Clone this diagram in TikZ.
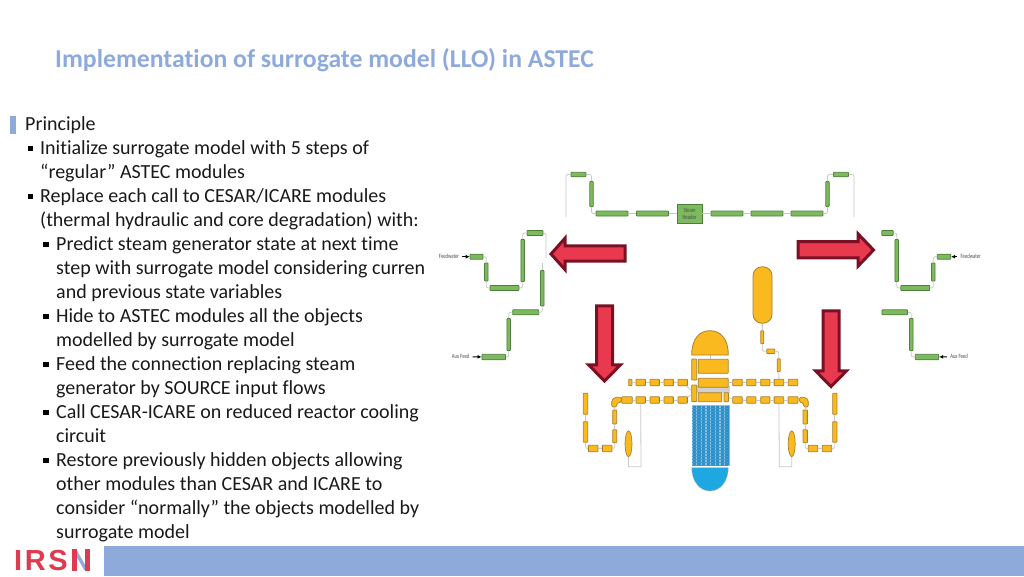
\documentclass[tikz,border=0pt]{standalone}
\usepackage{fontspec}
\setmainfont[Ligatures=NoCommon]{Carlito}
\newfontfamily\logofont[LetterSpace=9]{Liberation Sans}
\usetikzlibrary{shapes.geometric, arrows.meta}

\definecolor{slideblue}{HTML}{8EAADB}
\definecolor{logored}{HTML}{DE3A50}
\definecolor{arrowred}{HTML}{E8394E}
\definecolor{arrowdark}{HTML}{7A1024}
\definecolor{pipegreen}{HTML}{7DB95E}
\definecolor{pipegreendark}{HTML}{4D7F3B}
\definecolor{pipeyellow}{HTML}{F9B91F}
\definecolor{pipeyellowdark}{HTML}{A9802A}
\definecolor{coreblue}{HTML}{2B8FC9}
\definecolor{headblue}{HTML}{1EA7E0}

\tikzset{
    bodytext/.style={anchor=north west, align=left, inner sep=0pt, font=\fontsize{20}{24}\selectfont, text=black!90},
    bulletbox/.style={fill=black, inner sep=0pt, minimum size=5.5pt},
    gpipe/.style 2 args={draw=pipegreendark, fill=pipegreen, line width=0.8pt, rounded corners=0.6pt, inner sep=0pt, minimum width=#1pt, minimum height=#2pt},
    ypipe/.style 2 args={draw=pipeyellowdark, fill=pipeyellow, line width=0.8pt, rounded corners=0.6pt, inner sep=0pt, minimum width=#1pt, minimum height=#2pt},
    pipeline/.style={draw=black!22, line width=0.8pt, rounded corners=2pt},
    feedarrow/.style={-{Latex[length=4pt,width=4pt]}, line width=1pt, shorten <=3pt},
    feedtext/.style={inner sep=0pt, xscale=0.72, font=\fontsize{6.5}{7}\selectfont, text=black!70},
    bigarrow/.style={draw=arrowdark, fill=arrowred, line width=3pt, miter limit=10},
    blueshape/.style={draw=coreblue!55!white, fill=coreblue, line width=0.5pt, inner sep=0pt, minimum width=4.2pt, minimum height=60pt},
}

\begin{document}
\begin{tikzpicture}[x=1pt, y=-1pt]
    \useasboundingbox (0,0) rectangle (1024,576);

    % Titre
    \node[anchor=west, inner sep=0pt, font=\fontsize{25.7}{30}\bfseries\selectfont, text=slideblue] (title) at (55,60)
        {Implementation of surrogate model (LLO) in ASTEC};

    % Bande du bas et logo
    \fill[slideblue] (104,546) rectangle (1024,576);
    \node[anchor=base west, inner sep=0pt, font=\fontsize{29}{30}\bfseries\logofont, text=logored] (logoirs) at (14,570.5) {IRS};
    \node[anchor=base west, inner sep=0pt, font=\fontsize{29}{30}\bfseries\fontspec{Liberation Sans}, text=slideblue] (logon) at (70,570.5) {N};
    \fill[logored] (71.5,549) rectangle (76.5,570.5);
    \fill[logored] (84.5,549) rectangle (89.5,570.5);

    % Texte
    \fill[slideblue] (10,116) rectangle (16,134);
    \node[bodytext] (principle) at (25,116.5) {Principle};
    \node[bulletbox] (b1) at (30.5,148.5) {};
    \node[bodytext] (item1) at (40,140.5) {Initialize surrogate model with 5 steps of\\“regular” ASTEC modules};
    \node[bulletbox] (b2) at (30.5,196.5) {};
    \node[bodytext] (item2) at (40,188.5) {Replace each call to CESAR/ICARE modules\\(thermal hydraulic and core degradation) with:};
    \node[bulletbox] (b3) at (46,244.5) {};
    \node[bodytext] (item3) at (56,236.5) {Predict steam generator state at next time\\step with surrogate model considering curren\\and previous state variables};
    \node[bulletbox] (b4) at (46,316.5) {};
    \node[bodytext] (item4) at (56,308.5) {Hide to ASTEC modules all the objects\\modelled by surrogate model};
    \node[bulletbox] (b5) at (46,364.5) {};
    \node[bodytext] (item5) at (56,356.5) {Feed the connection replacing steam\\generator by SOURCE input flows};
    \node[bulletbox] (b6) at (46,412.5) {};
    \node[bodytext] (item6) at (56,404.5) {Call CESAR-ICARE on reduced reactor cooling\\circuit};
    \node[bulletbox] (b7) at (46,460.5) {};
    \node[bodytext] (item7) at (56,452.5) {Restore previously hidden objects allowing\\other modules than CESAR and ICARE to\\consider “normally” the objects modelled by\\surrogate model};

    % Ligne de vapeur
    \coordinate (steamLend) at (566,217);
    \coordinate (steamRend) at (854,217);
    \node[gpipe={15}{4.5}] (steamLa) at (578.5,174.5) {};
    \node[gpipe={3.5}{25}] (steamLb) at (591.5,194) {};
    \node[gpipe={32}{5}] (steamLc) at (612,213.5) {};
    \node[gpipe={32}{5}] (steamLd) at (652.5,213.5) {};
    \node[draw=pipegreendark, fill=pipegreen, line width=0.8pt, minimum width=25pt, minimum height=19pt, inner sep=0pt] (header) at (689.5,213.5) {};
    \node[feedtext, align=center] (headertext) at (689.5,213.5) {Steam\\Header};
    \node[gpipe={32}{5}] (steamRd) at (727,213.5) {};
    \node[gpipe={32}{5}] (steamRc) at (767,213.5) {};
    \node[gpipe={32}{5}] (steamRb) at (807,213.5) {};
    \node[gpipe={3.5}{25}] (steamRa) at (827.5,194) {};
    \node[gpipe={15}{4.5}] (steamRt) at (841,174.5) {};
    \draw[pipeline] (steamLend) |- (steamLa.west);
    \draw[pipeline] (steamLa.east) -| (steamLb.north);
    \draw[pipeline] (steamLb.south) |- (steamLc.west);
    \draw[pipeline] (steamLc) -- (steamLd);
    \draw[pipeline] (steamLd) -- (header);
    \draw[pipeline] (header) -- (steamRd);
    \draw[pipeline] (steamRd) -- (steamRc);
    \draw[pipeline] (steamRc) -- (steamRb);
    \draw[pipeline] (steamRb.east) -| (steamRa.south);
    \draw[pipeline] (steamRa.north) |- (steamRt.west);
    \draw[pipeline] (steamRt.east) -| (steamRend);

    % Generateur gauche
    \coordinate (sgLend) at (546,258);
    \coordinate (auxLend) at (542.3,263);
    \node[feedtext] (fwtextL) at (449,256.7) {Feedwater};
    \node[gpipe={13}{5}] (fwLa) at (476.5,256.7) {};
    \node[gpipe={3.5}{18}] (fwLb) at (486.3,272) {};
    \node[gpipe={29}{5}] (fwLc) at (504.5,288) {};
    \node[gpipe={3.5}{42}] (fwLd) at (522.7,260.5) {};
    \node[gpipe={16}{5}] (fwLe) at (535,233) {};
    \draw[feedarrow] (fwtextL) -- (fwLa);
    \draw[pipeline] (fwLa.east) -| (fwLb.north);
    \draw[pipeline] (fwLb.south) |- (fwLc.west);
    \draw[pipeline] (fwLc.east) -| (fwLd.south);
    \draw[pipeline] (fwLd.north) |- (fwLe.west);
    \draw[pipeline] (fwLe.east) -| (sgLend);
    \node[feedtext] (auxtextL) at (460.7,356.7) {Aux Feed};
    \node[gpipe={23.5}{5.5}] (auxLa) at (493.7,357) {};
    \node[gpipe={3.5}{32}] (auxLb) at (508.7,334.5) {};
    \node[gpipe={26}{5}] (auxLc) at (525.7,312.3) {};
    \node[gpipe={3.5}{35.5}] (auxLd) at (542.3,288.3) {};
    \draw[feedarrow] (auxtextL) -- (auxLa);
    \draw[pipeline] (auxLa.east) -| (auxLb.south);
    \draw[pipeline] (auxLb.north) |- (auxLc.west);
    \draw[pipeline] (auxLc.east) -| (auxLd.south);
    \draw[pipeline] (auxLd.north) -- (auxLend);

    % Generateur droit
    \node[feedtext] (fwtextR) at (970.7,256.7) {Feedwater};
    \node[gpipe={13.5}{5}] (fwRa) at (944,256.7) {};
    \node[gpipe={3.5}{18}] (fwRb) at (933.3,272) {};
    \node[gpipe={29}{5}] (fwRc) at (915.3,288) {};
    \node[gpipe={3.5}{42}] (fwRd) at (896.7,260.5) {};
    \node[gpipe={11.5}{5}] (fwRe) at (887.5,233) {};
    \draw[feedarrow] (fwtextR) -- (fwRa);
    \draw[pipeline] (fwRa.west) -| (fwRb.north);
    \draw[pipeline] (fwRb.south) |- (fwRc.east);
    \draw[pipeline] (fwRc.west) -| (fwRd.south);
    \draw[pipeline] (fwRd.north) |- (fwRe.east);
    \node[feedtext] (auxtextR) at (959,356.7) {Aux Feed};
    \node[gpipe={23.5}{5.5}] (auxRa) at (927,357) {};
    \node[gpipe={3.5}{32}] (auxRb) at (911.3,334.5) {};
    \node[gpipe={25.5}{5}] (auxRc) at (894.7,312.3) {};
    \draw[feedarrow] (auxtextR) -- (auxRa);
    \draw[pipeline] (auxRa.west) -| (auxRb.south);
    \draw[pipeline] (auxRb.north) |- (auxRc.east);

    % Pressuriseur
    \node[draw=pipeyellowdark, fill=pipeyellow, line width=0.8pt, rounded corners=9pt, inner sep=0pt, minimum width=19pt, minimum height=56.5pt] (press) at (762.5,295) {};
    \node[ypipe={3}{13}] (pressa) at (762.3,337.3) {};
    \node[ypipe={8}{4.5}] (pressb) at (770.7,351.3) {};
    \node[ypipe={3}{13}] (pressc) at (778.7,365.3) {};
    \draw[pipeline] (press) -- (pressa);
    \draw[pipeline] (pressa.south) |- (pressb.west);
    \draw[pipeline] (pressb.east) -| (pressc.north);

    % Cuve
    \fill[black!18] (691,386) rectangle (730,393);
    \draw[pipeline] (710,355) -- (710,359);
    \draw[draw=pipeyellowdark, fill=pipeyellow, line width=0.8pt] (691.7,355) .. controls (691.7,338) and (700,330.7) .. (710,330.7) .. controls (720,330.7) and (728.3,338) .. (728.3,355) -- cycle;
    \node[ypipe={30}{14}] (blocka) at (713.2,366.3) {};
    \node[ypipe={30}{9}] (blockb) at (713.2,382.8) {};
    \node[ypipe={23.5}{9}] (blockc) at (710,397.2) {};
    \node[ypipe={4.5}{9}] (blockd) at (726.3,397.2) {};
    \node[ypipe={5}{21}] (blocke) at (694.2,369.5) {};
    \node[ypipe={5}{16.5}] (blockf) at (694.2,393.3) {};
    \foreach \i in {0,...,7} {
        \node[blueshape] (core\i) at ({694+4.67*\i},435) {};
    }
    \foreach \y in {408,411,...,465} {
        \draw[coreblue!90!white, line width=0.3pt] (692,\y) -- (728.4,\y);
    }
    \draw[draw=black!25, fill=headblue, line width=0.4pt] (691.7,467.7) .. controls (691.7,482) and (700,491) .. (710,491) .. controls (720,491) and (728.3,482) .. (728.3,467.7) -- cycle;

    % Boucle gauche
    \node[ypipe={3.3}{6.5}] (upLa) at (630.3,382.5) {};
    \node[ypipe={9.3}{6.5}] (upLb) at (640.7,382.5) {};
    \node[ypipe={9.3}{6.5}] (upLc) at (654.7,382.5) {};
    \node[ypipe={9.3}{6.5}] (upLd) at (668.7,382.5) {};
    \node[ypipe={9.3}{6.5}] (upLe) at (682.7,382.5) {};
    \node[ypipe={10.6}{6.5}] (loLa) at (627,400) {};
    \node[ypipe={9.3}{6.5}] (loLb) at (640.7,400) {};
    \node[ypipe={9.3}{6.5}] (loLc) at (654.7,400) {};
    \node[ypipe={9.3}{6.5}] (loLd) at (668.7,400) {};
    \node[ypipe={9.3}{6.5}] (loLe) at (682.7,400) {};
    \foreach \a/\b in {upLa/upLb, upLb/upLc, upLc/upLd, upLd/upLe, upLe/blockf, loLa/loLb, loLb/loLc, loLc/loLd, loLd/loLe, loLe/blockf} {
        \draw[pipeline] (\a) -- (\b);
    }
    \draw[draw=pipeyellowdark, fill=pipeyellow, line width=0.7pt, rounded corners=1.5pt] (621.5,397.3) -- (621.5,402) -- (617,403) -- (616.7,407) -- (611.7,407) -- (611.7,400) -- (615,397.3) -- cycle;
    \coordinate (elbowL) at (614.7,407);
    \node[ypipe={4}{14}] (vLa) at (614.7,417) {};
    \node[ypipe={4}{13}] (vLb) at (614.7,436.3) {};
    \node[ypipe={9.7}{6.4}] (hLa) at (607.2,448.5) {};
    \node[ypipe={9.7}{6.4}] (hLb) at (593.2,448.5) {};
    \node[ypipe={4.4}{20.6}] (vLc) at (585.5,432) {};
    \node[ypipe={4.4}{21}] (vLd) at (585.5,403.8) {};
    \draw[pipeline] (elbowL) -- (vLa);
    \draw[pipeline] (vLa) -- (vLb);
    \draw[pipeline] (vLb.south) |- (hLa.east);
    \draw[pipeline] (hLa) -- (hLb);
    \draw[pipeline] (hLb.west) -| (vLc.south);
    \draw[pipeline] (vLc) -- (vLd);
    \node[ellipse, draw=pipeyellowdark, fill=pipeyellow, line width=0.7pt, inner sep=0pt, minimum width=7pt, minimum height=25.7pt] (pumpL) at (628.5,443.8) {};
    \draw[draw=black!22, line width=0.8pt] (pumpL.south) |- (641,466.7) -- (loLb.south);

    % Boucle droite
    \node[ypipe={9.6}{6.5}] (upRa) at (737.5,382.5) {};
    \node[ypipe={9.3}{6.5}] (upRb) at (751.3,382.5) {};
    \node[ypipe={9.3}{6.5}] (upRc) at (765.3,382.5) {};
    \node[ypipe={9.6}{6.5}] (upRd) at (778.9,382.5) {};
    \node[ypipe={9.4}{6.5}] (upRe) at (793,382.5) {};
    \node[ypipe={9.6}{6.5}] (loRa) at (737.5,400) {};
    \node[ypipe={9.3}{6.5}] (loRb) at (751.3,400) {};
    \node[ypipe={9.3}{6.5}] (loRc) at (765.3,400) {};
    \node[ypipe={9.6}{6.5}] (loRd) at (778.9,400) {};
    \node[ypipe={10}{6.5}] (loRe) at (793,400) {};
    \foreach \a/\b in {upRa/upRb, upRb/upRc, upRc/upRd, upRd/upRe, loRa/loRb, loRb/loRc, loRc/loRd, loRd/loRe, blockb/upRa, blockd/loRa} {
        \draw[pipeline] (\a) -- (\b);
    }
    \draw[pipeline] (pressc.south) -- (upRd.north);
    \draw[draw=pipeyellowdark, fill=pipeyellow, line width=0.7pt, rounded corners=1.5pt] (799.3,397.3) -- (799.3,402) -- (803.5,403) -- (803.5,407) -- (808.3,407) -- (808.3,400) -- (805,397.3) -- cycle;
    \coordinate (elbowR) at (805.2,407);
    \node[ypipe={4.3}{14}] (vRa) at (805.2,417) {};
    \node[ypipe={4.3}{13}] (vRb) at (805.2,436.3) {};
    \node[ypipe={9.4}{6.4}] (hRa) at (813,448.5) {};
    \node[ypipe={9.4}{6.4}] (hRb) at (827,448.5) {};
    \node[ypipe={4.3}{20.6}] (vRc) at (834.8,432) {};
    \node[ypipe={4.3}{21}] (vRd) at (834.8,403.8) {};
    \draw[pipeline] (elbowR) -- (vRa);
    \draw[pipeline] (vRa) -- (vRb);
    \draw[pipeline] (vRb.south) |- (hRa.west);
    \draw[pipeline] (hRa) -- (hRb);
    \draw[pipeline] (hRb.east) -| (vRc.south);
    \draw[pipeline] (vRc) -- (vRd);
    \node[ellipse, draw=pipeyellowdark, fill=pipeyellow, line width=0.7pt, inner sep=0pt, minimum width=7pt, minimum height=25.7pt] (pumpR) at (791.7,443.8) {};
    \draw[draw=black!22, line width=0.8pt] (pumpR.south) |- (779.3,466.7) -- (loRd.south);

    % Grandes fleches
    \draw[bigarrow] (625.2,245.8) -- (625.2,261.2) -- (565.2,261.2) -- (565.2,269.8) -- (551,254) -- (565.2,238) -- (565.2,245.8) -- cycle;
    \draw[bigarrow] (798.2,241.5) -- (798.2,257.8) -- (858.2,257.8) -- (858.2,266) -- (873.5,250) -- (858.2,234) -- (858.2,241.5) -- cycle;
    \draw[bigarrow] (596.5,305.8) -- (612.5,305.8) -- (612.5,364.8) -- (620.5,364.8) -- (604.5,381) -- (588.5,364.8) -- (596.5,364.8) -- cycle;
    \draw[bigarrow] (823.2,310.8) -- (839.2,310.8) -- (839.2,370.8) -- (846.5,370.8) -- (831,386.6) -- (815.5,370.8) -- (823.2,370.8) -- cycle;
\end{tikzpicture}
\end{document}
